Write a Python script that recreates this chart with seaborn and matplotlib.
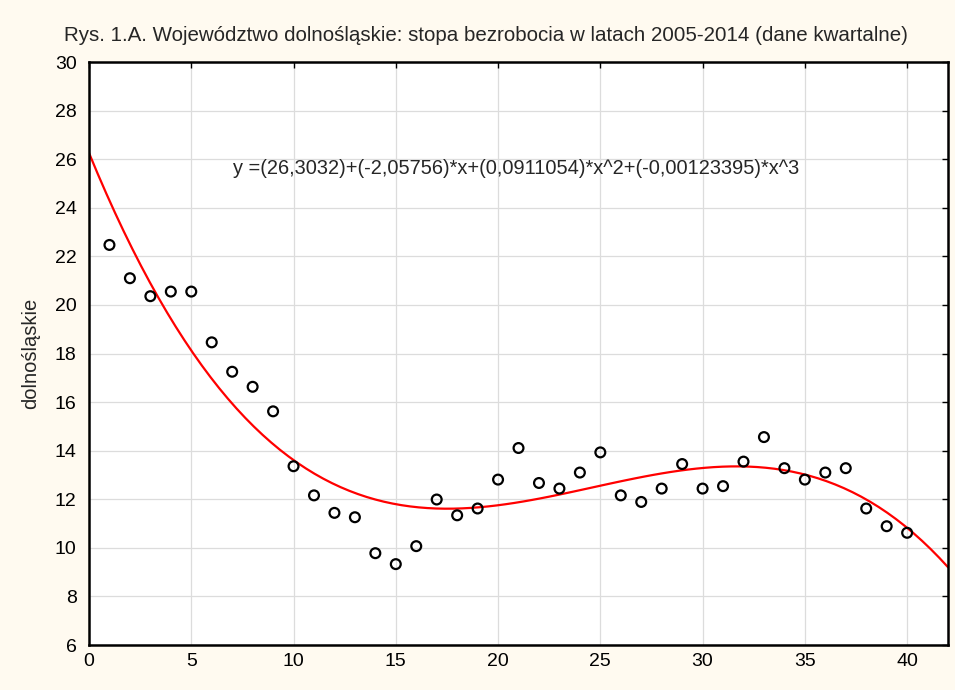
import numpy as np
import pandas as pd
import matplotlib
matplotlib.use("Agg")
import matplotlib.pyplot as plt
import seaborn as sns

# Quarterly unemployment rate, dolnośląskie 2005-2014
quarter = list(range(1, 41))
rate = [22.47, 21.10, 20.36, 20.55, 20.55, 18.46, 17.25, 16.63, 15.62, 13.36,
        12.16, 11.44, 11.26, 9.78, 9.33, 10.07, 11.99, 11.34, 11.62, 12.81,
        14.11, 12.67, 12.44, 13.10, 13.93, 12.16, 11.89, 12.44, 13.45, 12.44,
        12.54, 13.55, 14.56, 13.28, 12.81, 13.10, 13.28, 11.62, 10.89, 10.62]
x_ticks = [0, 5, 10, 15, 20, 25, 30, 35, 40]
y_ticks = [6, 8, 10, 12, 14, 16, 18, 20, 22, 24, 26, 28, 30]

title = "Rys. 1.A. Województwo dolnośląskie: stopa bezrobocia w latach 2005-2014 (dane kwartalne)"
equation = "y =(26,3032)+(-2,05756)*x+(0,0911054)*x^2+(-0,00123395)*x^3"

df = pd.DataFrame({"x": quarter, "dolnośląskie": rate})

sns.set_style("white")
plt.rcParams["font.family"] = ["Liberation Sans", "DejaVu Sans"]

fig = plt.figure(figsize=(9.55, 6.9), dpi=100, facecolor="#fffaf0")
ax = fig.add_axes([0.0932, 0.0652, 0.8995, 0.8449])
ax.set_facecolor("white")
ax.set_xlim(0, 42)
ax.set_ylim(6, 30)

# cubic fit across the full axis width
sns.regplot(data=df, x="x", y="dolnośląskie", order=3, ci=None, truncate=False,
            scatter=False, line_kws={"color": "red", "lw": 1.6, "zorder": 2}, ax=ax)
sns.scatterplot(data=df, x="x", y="dolnośląskie", marker="o", s=50,
                facecolor="none", edgecolor="black", linewidth=1.6, zorder=3, ax=ax)

ax.set_xlim(0, 42)
ax.set_ylim(6, 30)
ax.set_xticks(x_ticks)
ax.set_yticks(y_ticks)
ax.grid(True, color="#dcdcdc", lw=0.9)
ax.set_axisbelow(True)
ax.tick_params(direction="in", length=4, width=1, top=True, right=True,
               labelsize=14, colors="black", pad=6)
ax.tick_params(axis="y", pad=9)
for s in ax.spines.values():
    s.set_visible(True)
    s.set_color("black")
    s.set_linewidth(1.8)

ax.set_xlabel("")
ax.set_ylabel("dolnośląskie", fontsize=14.5)
ax.yaxis.set_label_coords(-0.057, 0.5)
fig.text(0.509, 1 - 41 / 690, title, fontsize=14.8, ha="center", va="baseline")
ax.text(20.9, 25.6, equation, fontsize=14.4, ha="center", va="center")

fig.savefig("out.png", dpi=100, facecolor=fig.get_facecolor())
